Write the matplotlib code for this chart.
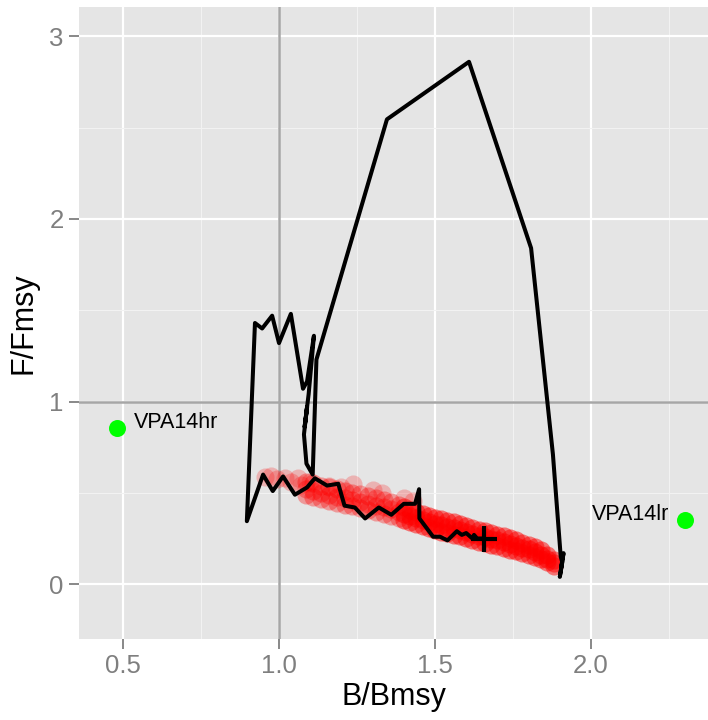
import matplotlib
matplotlib.use("Agg")
import matplotlib.pyplot as plt

plt.rcParams["font.family"] = ["Liberation Sans", "DejaVu Sans"]

# historical trajectory (B/Bmsy, F/Fmsy), last point = current status
traj_b = [1.905, 1.912, 1.900, 1.908, 1.903, 1.878, 1.808, 1.609, 1.346, 1.120,
          1.108, 1.088, 1.080, 1.090, 1.082, 1.095, 1.112, 1.090, 1.077, 1.038,
          1.000, 0.978, 0.946, 0.923, 0.897, 0.949, 0.980, 1.013, 1.051, 1.090,
          1.115, 1.154, 1.190, 1.210, 1.243, 1.276, 1.320, 1.360, 1.400, 1.436,
          1.449, 1.450, 1.494, 1.516, 1.540, 1.570, 1.586, 1.600, 1.620, 1.625,
          1.635, 1.657]
traj_f = [0.10, 0.17, 0.04, 0.12, 0.15, 0.71, 1.84, 2.86, 2.545, 1.23,
          0.60, 0.66, 0.82, 0.97, 0.86, 1.04, 1.36, 1.11, 1.07, 1.48,
          1.32, 1.47, 1.40, 1.43, 0.345, 0.60, 0.51, 0.59, 0.49, 0.53,
          0.58, 0.54, 0.55, 0.43, 0.42, 0.36, 0.42, 0.38, 0.44, 0.44,
          0.52, 0.36, 0.26, 0.26, 0.24, 0.29, 0.27, 0.28, 0.25, 0.27,
          0.25, 0.25]

# projected / bootstrap status cloud (red)
band_b_right = [1.40, 1.42, 1.44, 1.46, 1.48, 1.50, 1.52, 1.54, 1.56, 1.58, 1.60, 1.62, 1.64,
                1.66, 1.68, 1.70, 1.72, 1.74, 1.76, 1.78, 1.80, 1.82, 1.84, 1.86, 1.88]
band_f_mid = [.385, .372, .362, .350, .340, .330, .322, .314, .305, .295, .285, .275, .265,
              .256, .248, .240, .230, .220, .210, .198, .190, .175, .160, .140, .115]
band_f_hi = [.420, .406, .396, .384, .374, .364, .356, .347, .338, .328, .318, .308, .298,
             .289, .280, .272, .262, .251, .240, .228, .217, .202, .185, .162, .132]
band_f_lo = [.350, .338, .328, .316, .306, .296, .288, .280, .271, .262, .252, .242, .232,
             .223, .215, .207, .198, .189, .180, .169, .162, .150, .138, .120, .100]

band_b_left = [1.085, 1.11, 1.135, 1.16, 1.185, 1.21, 1.235, 1.26, 1.285, 1.31, 1.335, 1.36, 1.385]
band_fl_mid = [.522, .510, .500, .490, .480, .470, .460, .450, .440, .430, .420, .410, .398]
band_fl_hi = [.560, .552, .540, .530, .520, .510, .500, .492, .482, .472, .462, .452, .436]
band_fl_lo = [.488, .476, .466, .456, .446, .436, .426, .416, .404, .394, .384, .372, .362]

loose_b = [0.955, 0.975, 0.995, 1.02, 1.04, 1.06, 1.07, 1.237, 1.30, 1.33, 1.10, 1.16, 1.20, 1.40, 1.43]
loose_f = [0.585, 0.590, 0.575, 0.580, 0.560, 0.580, 0.545, 0.550, 0.515, 0.500, 0.560, 0.540, 0.530, 0.470, 0.455]

# reference runs
ref_names = ["VPA14hr", "VPA14lr"]
ref_b = [0.48, 2.30]
ref_f = [0.856, 0.35]

fig = plt.figure(figsize=(7.08, 7.2), dpi=100)
ax = fig.add_axes([79 / 708, 81 / 720, 629 / 708, 632 / 720])
ax.set_facecolor("#E5E5E5")
for s in ax.spines.values():
    s.set_visible(False)

ax.set_xlim(0.359, 2.375)
ax.set_ylim(-0.30, 3.16)
ax.set_xticks([0.5, 1.0, 1.5, 2.0])
ax.set_yticks([0, 1, 2, 3])
ax.set_xticklabels(["0.5", "1.0", "1.5", "2.0"])
ax.set_xticks([0.75, 1.25, 1.75, 2.25], minor=True)
ax.set_yticks([0.5, 1.5, 2.5], minor=True)
ax.grid(which="major", color="white", lw=1.6)
ax.grid(which="minor", color="#F2F2F2", lw=0.8)
ax.set_axisbelow(True)
ax.tick_params(which="major", length=7, width=1.3, color="#7F7F7F",
               labelcolor="#7F7F7F", labelsize=18.5, pad=4)
ax.tick_params(which="minor", length=0)

ax.axvline(1.0, color="#A6A6A6", lw=1.8, zorder=1)
ax.axhline(1.0, color="#A6A6A6", lw=1.8, zorder=1)

# dense part of the cloud
red = dict(s=170, color="red", alpha=0.5, lw=0, zorder=2)
ax.scatter(band_b_right, band_f_mid, **red)
ax.scatter(band_b_right, band_f_hi, **red)
ax.scatter(band_b_right, band_f_lo, **red)
# thinner, more scattered part
red_l = dict(s=170, color="red", alpha=0.33, lw=0, zorder=2)
ax.scatter(band_b_left, band_fl_mid, **red_l)
ax.scatter(band_b_left, band_fl_hi, **red_l)
ax.scatter(band_b_left, band_fl_lo, **red_l)
ax.scatter(loose_b, loose_f, s=170, color="red", alpha=0.22, lw=0, zorder=2)

ax.plot(traj_b, traj_f, color="black", lw=2.9, solid_joinstyle="round", zorder=3)
ax.plot(traj_b[-1], traj_f[-1], marker="+", ms=19, mew=3, color="black", zorder=4)

ax.scatter(ref_b, ref_f, s=150, color="#00FF00", lw=0, zorder=5)
ax.annotate(ref_names[0], (ref_b[0], ref_f[0]), xytext=(12, 4), textcoords="offset points",
            ha="left", va="center", fontsize=15.5, color="black")
ax.annotate(ref_names[1], (ref_b[1], ref_f[1]), xytext=(-11, 4), textcoords="offset points",
            ha="right", va="center", fontsize=15.5, color="black")

ax.set_xlabel("B/Bmsy", fontsize=22, labelpad=3)
ax.set_ylabel("F/Fmsy", fontsize=22, labelpad=8)

fig.savefig("out.png", dpi=100)
